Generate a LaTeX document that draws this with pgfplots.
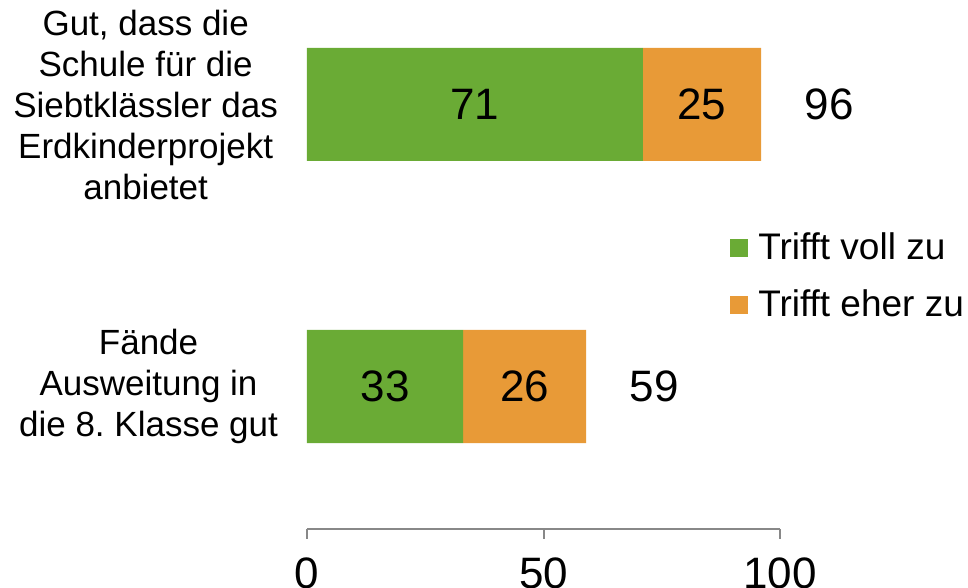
\documentclass[border=0pt]{standalone}
\usepackage{fontspec}
\setmainfont{Liberation Sans}
\usepackage{pgfplots}
\pgfplotsset{compat=1.18}
\definecolor{voll}{HTML}{6AAB35}
\definecolor{eher}{HTML}{E89A37}
\definecolor{axgray}{HTML}{888888}

\begin{document}
\frenchspacing
\begin{tikzpicture}
\begin{axis}[
    anchor=origin,
    at={(0,0)},
    x=2.365pt, y=141pt,
    xbar stacked,
    bar width=56.5pt,
    xmin=0, xmax=100,
    ymin=-0.505, ymax=1.4,
    axis lines*=left,
    y axis line style={draw=none},
    x axis line style={axgray, line width=1pt},
    xtick={0,50,100},
    xtick align=outside,
    major tick length=5pt,
    xtick style={axgray, line width=1pt},
    ytick={0,1},
    ytick style={draw=none},
    yticklabels={{Fände\\Ausweitung in\\die 8. Klasse gut},
                 {Gut, dass die\\Schule für die\\Siebtklässler das\\Erdkinderprojekt\\anbietet}},
    yticklabel style={align=center, xshift=-11pt, font=\fontsize{17.5}{20.5}\selectfont},
    xticklabel style={yshift=-6pt, font=\fontsize{22}{24}\selectfont},
    /pgf/number format/assume math mode=true,
    nodes near coords,
    every node near coord/.append style={font=\fontsize{22}{24}\selectfont, black},
    legend style={at={(0.894,0.47)}, anchor=west, draw=none, fill=none,
        inner sep=0pt, row sep=9.5pt, font=\fontsize{18.5}{20.5}\selectfont},
    legend cell align=left,
    legend image code/.code={\fill[#1] (0pt,-4.5pt) rectangle (9pt,4.5pt);
        \path (12pt,0pt);},
]
\addplot[draw=none, fill=voll] coordinates {(33,0) (71,1)};
\addlegendentry{Trifft voll zu}
\addplot[draw=none, fill=eher] coordinates {(26,0) (25,1)};
\addlegendentry{Trifft eher zu}
% totals
\addplot[draw=none, fill=none, forget plot, point meta=explicit symbolic,
    nodes near coords={\pgfplotspointmeta},
    every node near coord/.append style={xshift=34pt}]
    coordinates {(0.01,0) [59] (0.01,1) [96]};
\end{axis}
\pgfresetboundingbox
\path (-153.5pt,193.25pt) rectangle (330.5pt,-100.75pt);
\end{tikzpicture}
\end{document}
